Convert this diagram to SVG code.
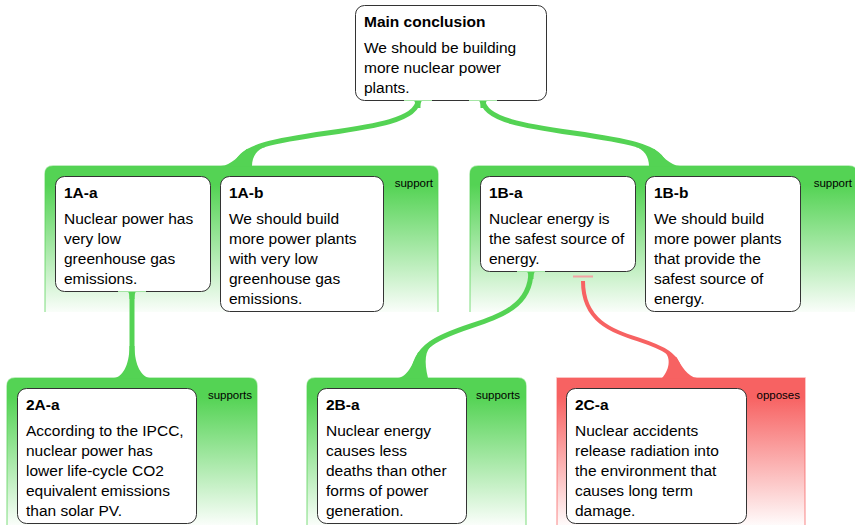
<svg xmlns="http://www.w3.org/2000/svg" width="855" height="525" viewBox="0 0 855 525">
<defs>
<linearGradient id="gGreen" x1="0" y1="0" x2="0" y2="1">
<stop offset="0" stop-color="#54d354" stop-opacity="1"/>
<stop offset="0.13" stop-color="#54d354" stop-opacity="1"/>
<stop offset="1" stop-color="#54d354" stop-opacity="0.03"/>
</linearGradient>
<linearGradient id="gRed" x1="0" y1="0" x2="0" y2="1">
<stop offset="0" stop-color="#f76262" stop-opacity="1"/>
<stop offset="0.13" stop-color="#f76262" stop-opacity="1"/>
<stop offset="1" stop-color="#f76262" stop-opacity="0.03"/>
</linearGradient>
</defs>
<style>
.box{fill:#fff;stroke:#333;stroke-width:1}
.t{font-family:"Liberation Sans",Arial,sans-serif;font-size:15.5px;fill:#000}
.b{font-weight:bold}
.lbl{font-family:"Liberation Sans",Arial,sans-serif;font-size:11.5px;fill:#000;text-anchor:end}
.gf{fill:url(#gGreen)}
.rf{fill:url(#gRed)}
.gs{fill:none;stroke:#54d354;stroke-opacity:0.5;stroke-width:1.5}
.rs{fill:none;stroke:#f76262;stroke-opacity:0.5;stroke-width:1.5}
.cg{fill:none;stroke:#54d354;stroke-width:5}
.cr{fill:none;stroke:#f76262;stroke-width:4}
.fg{fill:#54d354}
.fr{fill:#f76262}
.hl{stroke:#a5e5a5;stroke-width:1.2}
</style>
<rect width="855" height="525" fill="#fff"/>

<g id="groups">
<g id="g1A">
<path class="gf" d="M45,312 V174 Q45,166 53,166 H430 Q438,166 438,174 V312 Z"/>
<path class="gs" d="M45,312 V174 Q45,166 53,166 H430 Q438,166 438,174 V312"/>
<text class="lbl" x="433" y="187">support</text>
</g>
<g id="g1B">
<path class="gf" d="M470,312 V174 Q470,166 478,166 H849 Q857,166 857,174 V312 Z"/>
<path class="gs" d="M470,312 V174 Q470,166 478,166 H849 Q857,166 857,174 V312"/>
<text class="lbl" x="852" y="187">support</text>
</g>
<g id="g2A">
<path class="gf" d="M7,525 V386 Q7,378 15,378 H249 Q257,378 257,386 V525 Z"/>
<path class="gs" d="M7,525 V386 Q7,378 15,378 H249 Q257,378 257,386 V525"/>
<text class="lbl" x="252" y="399">supports</text>
</g>
<g id="g2B">
<path class="gf" d="M307,525 V386 Q307,378 315,378 H518 Q526,378 526,386 V525 Z"/>
<path class="gs" d="M307,525 V386 Q307,378 315,378 H518 Q526,378 526,386 V525"/>
<text class="lbl" x="520" y="399">supports</text>
</g>
<g id="g2C">
<path class="rf" d="M557,525 V378 H805 V525 Z"/>
<path class="rs" d="M557,525 V378 H805 V525"/>
<text class="lbl" x="800" y="399">opposes</text>
</g>
</g>

<g id="connectors">
<!-- main -> 1A -->
<path class="cg" d="M418,100 C418,140 237,126 237,166"/>
<path class="fg" d="M221,166 C231,166 239,155 246.7,149.1 L266,146.8 C257,149 252,157 252,166 Z"/>
<path class="fg" d="M412,100 C415,100 415.5,103 415.5,108 L420.5,108 C420.5,103 421,100 424,100 Z"/>
<!-- main -> 1B -->
<path class="cg" d="M483,100 C483,140 664,126 664,166"/>
<path class="fg" d="M680,166 C670,166 662,155 654.3,149.1 L635,146.8 C644,149 649,157 649,166 Z"/>
<path class="fg" d="M489,100 C486,100 485.5,103 485.5,108 L480.5,108 C480.5,103 480,100 477,100 Z"/>
<!-- 1A-a -> 2A-a -->
<path class="cg" d="M132,291 V378"/>
<path class="fg" d="M114,378 C122,377 129.5,366 129.5,346 L134.5,346 C134.5,366 142,377 150,378 Z"/>
<path class="fg" d="M126,291 C129,291 129.5,294 129.5,299 L134.5,299 C134.5,294 135,291 138,291 Z"/>
<!-- 1B-a -> 2B-a -->
<path class="cg" d="M531,271 C531,340 413,312 413,378"/>
<path class="fg" d="M398,378 C407,377 413,364 418,352.5 L432.5,345.1 C425,350 424,362 428,378 Z"/>
<path class="fg" d="M525,271 C528,271 528.5,274 528.5,279 L533.5,279 C533.5,274 534,271 537,271 Z"/>
<!-- 1B-a -| 2C-a (opposes) -->
<path d="M573,276.5 H593" stroke="#f3a3a3" stroke-width="2"/>
<path class="cr" d="M583,281 C583,355 681,325 681,378"/>
<path class="fr" d="M697,378 C688,377 681,366 676.6,357.3 L664.6,352.2 C670,356 671,368 662,378 Z"/>
</g>

<g id="main">
<rect class="box" x="355.5" y="5.5" width="191" height="95" rx="9"/>
<text class="t b" x="364" y="27">Main conclusion</text>
<text class="t" x="364" y="53">We should be building</text>
<text class="t" x="364" y="73">more nuclear power</text>
<text class="t" x="364" y="93">plants.</text>
</g>
<g id="n1Aa">
<rect class="box" x="55.5" y="176.5" width="155" height="115" rx="9"/>
<text class="t b" x="64" y="198">1A-a</text>
<text class="t" x="64" y="224">Nuclear power has</text>
<text class="t" x="64" y="244">very low</text>
<text class="t" x="64" y="264">greenhouse gas</text>
<text class="t" x="64" y="284">emissions.</text>
</g>
<g id="n1Ab">
<rect class="box" x="220.5" y="176.5" width="163" height="135" rx="9"/>
<text class="t b" x="229" y="198">1A-b</text>
<text class="t" x="229" y="224">We should build</text>
<text class="t" x="229" y="244">more power plants</text>
<text class="t" x="229" y="264">with very low</text>
<text class="t" x="229" y="284">greenhouse gas</text>
<text class="t" x="229" y="304">emissions.</text>
</g>
<g id="n1Ba">
<rect class="box" x="480.5" y="176.5" width="155" height="95" rx="9"/>
<text class="t b" x="489" y="198">1B-a</text>
<text class="t" x="489" y="224">Nuclear energy is</text>
<text class="t" x="489" y="244">the safest source of</text>
<text class="t" x="489" y="264">energy.</text>
</g>
<g id="n1Bb">
<rect class="box" x="645.5" y="176.5" width="155" height="135" rx="9"/>
<text class="t b" x="654" y="198">1B-b</text>
<text class="t" x="654" y="224">We should build</text>
<text class="t" x="654" y="244">more power plants</text>
<text class="t" x="654" y="264">that provide the</text>
<text class="t" x="654" y="284">safest source of</text>
<text class="t" x="654" y="304">energy.</text>
</g>
<g id="n2Aa">
<rect class="box" x="17.5" y="388.5" width="179" height="135" rx="9"/>
<text class="t b" x="26" y="410">2A-a</text>
<text class="t" x="26" y="436">According to the IPCC,</text>
<text class="t" x="26" y="456">nuclear power has</text>
<text class="t" x="26" y="476">lower life-cycle CO2</text>
<text class="t" x="26" y="496">equivalent emissions</text>
<text class="t" x="26" y="516">than solar PV.</text>
</g>
<g id="n2Ba">
<rect class="box" x="317.5" y="388.5" width="149" height="135" rx="9"/>
<text class="t b" x="326" y="410">2B-a</text>
<text class="t" x="326" y="436">Nuclear energy</text>
<text class="t" x="326" y="456">causes less</text>
<text class="t" x="326" y="476">deaths than other</text>
<text class="t" x="326" y="496">forms of power</text>
<text class="t" x="326" y="516">generation.</text>
</g>
<g id="n2Ca">
<rect class="box" x="566.5" y="388.5" width="180" height="135" rx="9"/>
<text class="t b" x="575" y="410">2C-a</text>
<text class="t" x="575" y="436">Nuclear accidents</text>
<text class="t" x="575" y="456">release radiation into</text>
<text class="t" x="575" y="476">the environment that</text>
<text class="t" x="575" y="496">causes long term</text>
<text class="t" x="575" y="516">damage.</text>
</g>

<g id="highlights">
<path class="hl" d="M404,100.5 H432 M469,100.5 H497 M118,291.5 H146 M517,271.5 H545"/>
</g>
</svg>
